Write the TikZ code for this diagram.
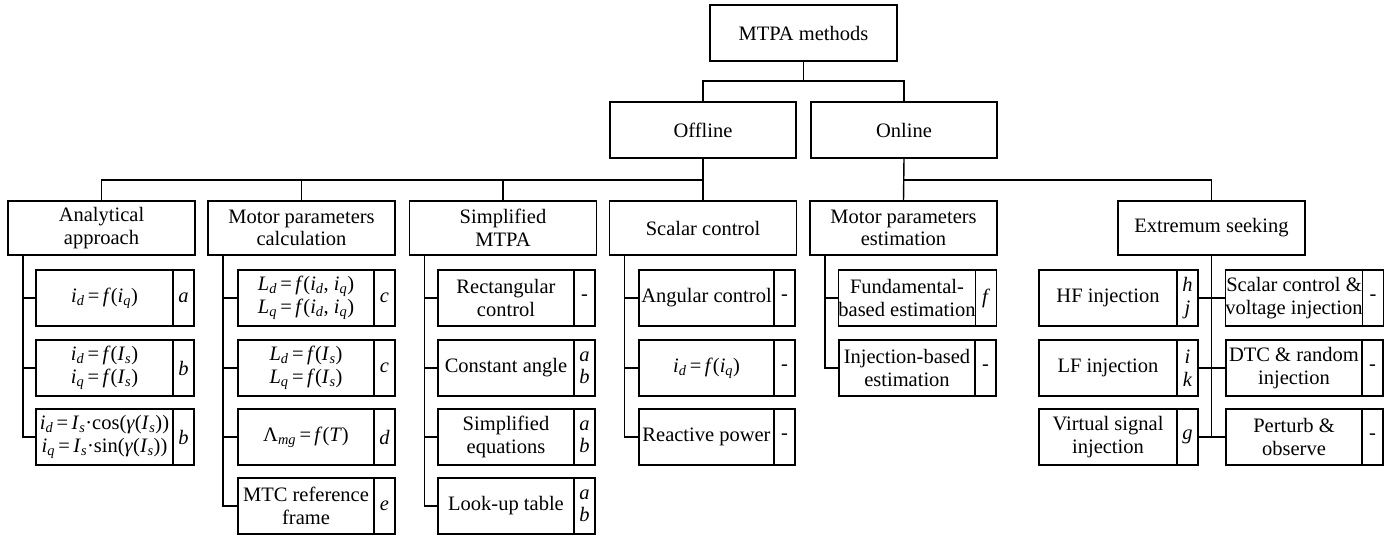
\documentclass[tikz,border=0pt]{standalone}
\usepackage{fontspec}
\setmainfont{Liberation Serif}
% italic symbols and italic subscripts for the formulas
\newcommand\vv[1]{\textit{#1}}
\newcommand\sbx[1]{\textsubscript{\textit{#1}}}
\newcommand\eqs{\,=\,}
% a leaf: formula/text cell with a narrow reference cell on its right
\newcommand\leaf[6]{%
  \node[leafbox, minimum width=#4] (#1) at ({#2+#4/2},#3) {#5};
  \node[tagbox, anchor=west] (#1t) at (#1.east) {#6};}
\begin{document}
\begin{tikzpicture}[x=1pt,y=-1pt, line width=1.4pt,
  box/.style={draw, rectangle, inner sep=0pt, outer sep=0pt, align=center,
    font=\fontsize{20.5}{22.5}\selectfont},
  headbox/.style={box, minimum width=187, minimum height=56},
  catbox/.style={box, minimum width=187, minimum height=54},
  leafbox/.style={box, minimum height=56},
  tagbox/.style={box, minimum height=56, minimum width=21}]
\useasboundingbox (0,0) rectangle (1398,537);

% top levels
\node[headbox] (mtpa) at (803.5,33) {MTPA methods};
\node[headbox, minimum width=186] (off) at (703,130) {Offline};
\node[headbox, minimum width=186] (on) at (904,130) {Online};

% method families
\node[catbox] (ana) at (101.5,228) {Analytical\\approach};
\node[catbox] (calc) at (301.5,228) {Motor parameters\\calculation};
\node[catbox] (simp) at (503,228) {Simplified\\MTPA};
\node[catbox] (scal) at (703,228) {Scalar control};
\node[catbox] (est) at (903.5,228) {Motor parameters\\estimation};
\node[catbox] (ext) at (1211.5,228) {Extremum seeking};

% analytical approach
\leaf{a1}{36}{298}{137}{\vv{i}\sbx{d}\eqs\vv{f}(\vv{i}\sbx{q})}{\vv{a}}
\leaf{a2}{36}{368}{137}{\vv{i}\sbx{d}\eqs\vv{f}(\vv{I}\sbx{s})\\\vv{i}\sbx{q}\eqs\vv{f}(\vv{I}\sbx{s})}{\vv{b}}
\leaf{a3}{36}{437}{137}{\vv{i}\sbx{d}\eqs\vv{I}\sbx{s}·cos(\vv{γ}(\vv{I}\sbx{s}))\\\vv{i}\sbx{q}\eqs\vv{I}\sbx{s}·sin(\vv{γ}(\vv{I}\sbx{s}))}{\vv{b}}

% motor parameters calculation
\leaf{c1}{238}{298}{136}{\vv{L}\sbx{d}\eqs\vv{f}(\vv{i}\sbx{d}, \vv{i}\sbx{q})\\\vv{L}\sbx{q}\eqs\vv{f}(\vv{i}\sbx{d}, \vv{i}\sbx{q})}{\vv{c}}
\leaf{c2}{238}{368}{136}{\vv{L}\sbx{d}\eqs\vv{f}(\vv{I}\sbx{s})\\\vv{L}\sbx{q}\eqs\vv{f}(\vv{I}\sbx{s})}{\vv{c}}
\leaf{c3}{238}{437}{136}{Λ\sbx{mg}\eqs\vv{f}(\vv{T})}{\vv{d}}
\leaf{c4}{238}{506}{136}{MTC reference\\frame}{\vv{e}}

% simplified MTPA
\leaf{s1}{438}{298}{136}{Rectangular\\control}{-}
\leaf{s2}{438}{368}{136}{Constant angle}{\vv{a}\\\vv{b}}
\leaf{s3}{438}{437}{136}{Simplified\\equations}{\vv{a}\\\vv{b}}
\leaf{s4}{438}{506}{136}{Look-up table}{\vv{a}\\\vv{b}}

% scalar control
\leaf{k1}{639}{298}{135}{Angular control}{-}
\leaf{k2}{639}{368}{135}{\vv{i}\sbx{d}\eqs\vv{f}(\vv{i}\sbx{q})}{-}
\leaf{k3}{639}{437}{135}{Reactive power}{-}

% motor parameters estimation
\leaf{m1}{839}{298}{136}{Fundamental-\\based estimation}{\vv{f}}
\leaf{m2}{839}{368}{136}{Injection-based\\estimation}{-}

% extremum seeking
\leaf{e1}{1039}{298}{138}{HF injection}{\vv{h}\\\vv{j}}
\leaf{e2}{1039}{368}{138}{LF injection}{\vv{i}\\\vv{k}}
\leaf{e3}{1039}{437}{138}{Virtual signal\\injection}{\vv{g}}
\leaf{g1}{1226}{298}{136}{Scalar control \&\\voltage injection}{-}
\leaf{g2}{1226}{368}{136}{DTC \& random\\injection}{-}
\leaf{g3}{1226}{437}{136}{Perturb \&\\observe}{-}

% tree connectors
\draw (mtpa.south) -- ++(0,20);
\draw (off.north) -- ++(0,-21) -| (on.north);
\draw (off.south) -- (scal.north);
\draw (ana.north) -- ++(0,-21) -| (scal.north);
\draw (calc.north) -- ++(0,-21);
\draw (simp.north) -- ++(0,-21);
\draw (on.south) -- (est.north);
\draw (est.north) -- ++(0,-21) -| (ext.north);

% trunks down the left side of each family
\coordinate (tA) at ([xshift=15pt]ana.south west);
\coordinate (tC) at ([xshift=15pt]calc.south west);
\coordinate (tS) at ([xshift=15pt]simp.south west);
\coordinate (tK) at ([xshift=15pt]scal.south west);
\coordinate (tM) at ([xshift=15pt]est.south west);
\draw (tA) |- (a3.west);
\draw (a1.west) -- (a1.west -| tA);
\draw (a2.west) -- (a2.west -| tA);
\draw (tC) |- (c4.west);
\foreach \n in {c1,c2,c3} \draw (\n.west) -- (\n.west -| tC);
\draw (tS) |- (s4.west);
\foreach \n in {s1,s2,s3} \draw (\n.west) -- (\n.west -| tS);
\draw (tK) |- (k3.west);
\foreach \n in {k1,k2} \draw (\n.west) -- (\n.west -| tK);
\draw (tM) |- (m2.west);
\draw (m1.west) -- (m1.west -| tM);

% central trunk of extremum seeking
\draw (ext.south) -- (ext.south |- g3.west);
\draw (e1t.east) -- (g1.west);
\draw (e2t.east) -- (g2.west);
\draw (e3t.east) -- (g3.west);
\end{tikzpicture}
\end{document}
